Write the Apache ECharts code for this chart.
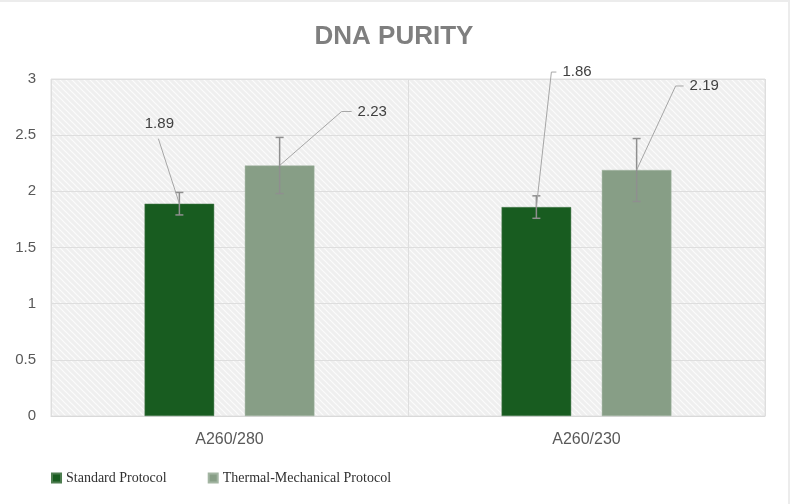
<!DOCTYPE html>
<html>
<head>
<meta charset="utf-8">
<script src="https://cdn.jsdelivr.net/npm/echarts@6/dist/echarts.min.js"></script>
<style>
html,body{margin:0;padding:0;background:#fff;}
#main{width:790px;height:504px;box-sizing:border-box;border-top:2px solid #ececec;border-right:2px solid #ececec;}
</style>
</head>
<body>
<div id="main"></div>
<script>
var categories = ['A260/280', 'A260/230'];
var seriesNames = ['Standard Protocol', 'Thermal-Mechanical Protocol'];
var standardValues = [1.89, 1.86];
var standardErrors = [0.1, 0.1];
var thermalValues = [2.23, 2.19];
var thermalErrors = [0.25, 0.28];
var yTicks = [0, 0.5, 1, 1.5, 2, 2.5, 3];

window.onload = function () {
	var myChart = echarts.init(document.getElementById('main'));

	// hatched plot background
	var cv = document.createElement('canvas');
	cv.width = 6; cv.height = 6;
	var ctx = cv.getContext('2d');
	ctx.fillStyle = '#efefef';
	ctx.fillRect(0, 0, 6, 6);
	ctx.strokeStyle = '#fbfbfb';
	ctx.lineWidth = 1.2;
	ctx.beginPath();
	ctx.moveTo(-1, -1); ctx.lineTo(7, 7);
	ctx.moveTo(-4, 2); ctx.lineTo(4, 10);
	ctx.moveTo(2, -4); ctx.lineTo(10, 4);
	ctx.stroke();

	var barW = 0.195, barGap = 0.44;
	// label placement relative to the top of each bar (pixels)
	var labelPos = [
		[{ elbow: [-21, -65], end: null, text: [-20, -80], align: 'center' },
		 { elbow: [15, -135], end: [20, -135], text: [26, -135], align: 'left' }],
		[{ elbow: [62, -54], end: [72, -54], text: [78, -54], align: 'left' },
		 { elbow: [39, -84], end: [47, -84], text: [53, -84], align: 'left' }]
	];

	function makeRender(si) {
		return function (params, api) {
			var ci = api.value(0);
			var v = api.value(1);
			var e = api.value(2);
			var band = api.size([1, 0])[0];
			var off = (barW * band + barGap * barW * band) / 2 * (si === 0 ? -1 : 1);
			var top = api.coord([ci, v]);
			var x = top[0] + off;
			var y = top[1];
			var hi = api.coord([ci, v + e])[1];
			var lo = api.coord([ci, v - e])[1];
			var p = labelPos[si][ci];
			var pts = [[x, y], [x + p.elbow[0], y + p.elbow[1]]];
			if (p.end) pts.push([x + p.end[0], y + p.end[1]]);
			var errStyle = { stroke: '#8f8f8f', lineWidth: 1.5 };
			return {
				type: 'group',
				children: [
					{ type: 'line', shape: { x1: x, y1: hi, x2: x, y2: lo }, style: errStyle },
					{ type: 'line', shape: { x1: x - 4, y1: hi, x2: x + 4, y2: hi }, style: errStyle },
					{ type: 'line', shape: { x1: x - 4, y1: lo, x2: x + 4, y2: lo }, style: errStyle },
					{ type: 'polyline', shape: { points: pts }, style: { stroke: '#a6a6a6', lineWidth: 1, fill: null } },
					{ type: 'text', x: x + p.text[0], y: y + p.text[1], style: {
						text: v.toFixed(2), fill: '#404040', font: '15px "Liberation Sans", Arial, sans-serif',
						align: p.align, verticalAlign: 'middle' } }
				]
			};
		};
	}

	function customData(vals, errs) {
		return vals.map(function (v, i) { return [i, v, errs[i]]; });
	}

	myChart.setOption({
		animation: false,
		title: {
			text: 'DNA PURITY',
			left: 'center',
			top: 17,
			textStyle: { color: '#7f7f7f', fontSize: 26, fontWeight: 'bold', fontFamily: '"Liberation Sans", Arial, sans-serif' }
		},
		legend: {
			data: seriesNames,
			left: 46,
			top: 464,
			icon: 'rect',
			itemWidth: 9,
			itemHeight: 9,
			itemGap: 41,
			textStyle: { color: '#303030', fontSize: 14, fontFamily: '"Liberation Serif", "Times New Roman", serif' }
		},
		grid: {
			left: 51, right: 23, top: 77, bottom: 88,
			show: true,
			backgroundColor: { image: cv, repeat: 'repeat' },
			borderColor: '#e0e0e0',
			borderWidth: 1
		},
		xAxis: {
			type: 'category',
			data: categories,
			axisLine: { show: true, lineStyle: { color: '#d9d9d9' } },
			axisTick: { show: false },
			splitLine: { show: true, lineStyle: { color: '#dedede' } },
			axisLabel: { color: '#595959', fontSize: 16, margin: 16, fontFamily: '"Liberation Sans", Arial, sans-serif' }
		},
		yAxis: {
			type: 'value',
			min: yTicks[0],
			max: yTicks[yTicks.length - 1],
			interval: 0.5,
			axisLine: { show: false },
			axisTick: { show: false },
			splitLine: { lineStyle: { color: '#dedede' } },
			axisLabel: { color: '#595959', fontSize: 15, margin: 15, fontFamily: '"Liberation Sans", Arial, sans-serif' }
		},
		series: [{
			name: seriesNames[0],
			type: 'bar',
			data: standardValues,
			barWidth: '19.5%',
			barGap: '44%',
			itemStyle: { color: '#185c20', borderColor: '#4d7d50', borderWidth: 0.5 }
		}, {
			name: seriesNames[1],
			type: 'bar',
			data: thermalValues,
			barWidth: '19.5%',
			barGap: '44%',
			itemStyle: { color: '#879e86', borderColor: '#a3b5a2', borderWidth: 0.5 }
		}, {
			type: 'custom',
			renderItem: makeRender(0),
			encode: { x: 0, y: 1 },
			data: customData(standardValues, standardErrors),
			z: 5
		}, {
			type: 'custom',
			renderItem: makeRender(1),
			encode: { x: 0, y: 1 },
			data: customData(thermalValues, thermalErrors),
			z: 5
		}]
	});
};
</script>
</body>
</html>
